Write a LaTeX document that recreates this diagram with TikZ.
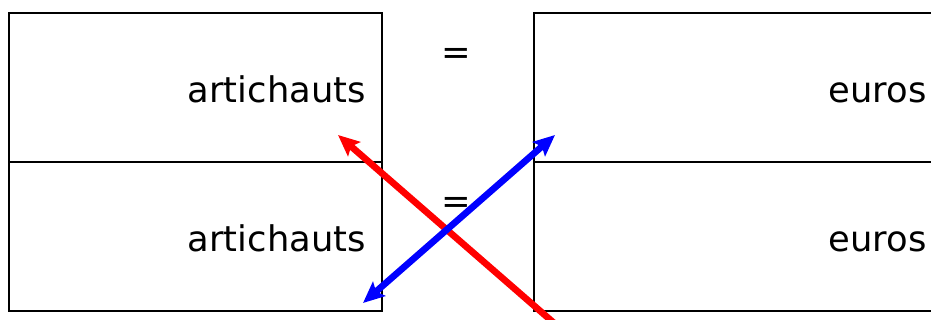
\documentclass[tikz,border=0pt]{standalone}
\usepackage{fontspec}
\setmainfont{DejaVu Sans}
\usetikzlibrary{arrows.meta}

\begin{document}
\begin{tikzpicture}[x=0.75pt, y=-0.75pt, font=\fontsize{26.5}{30}\selectfont]
    \useasboundingbox (0,0) rectangle (931,320);

    % Boxes
    \node[draw, line width=1.6pt, anchor=north west, minimum width=279.75pt, minimum height=111.75pt] (artTop) at (8,12) {};
    \node[draw, line width=1.6pt, anchor=north west, minimum width=279.75pt, minimum height=111.75pt] (artBot) at (8,161) {};
    \node[draw, line width=1.6pt, anchor=north west, minimum width=307pt, minimum height=111.75pt] (eurTop) at (533,12) {};
    \node[draw, line width=1.6pt, anchor=north west, minimum width=307pt, minimum height=111.75pt] (eurBot) at (533,161) {};

    % Labels
    \node[anchor=base east, inner sep=0pt] (artTopL) at (366,103) {artichauts};
    \node[anchor=base east, inner sep=0pt] (artBotL) at (366,252) {artichauts};
    \node[anchor=base east, inner sep=0pt] (eurTopL) at (927,103) {euros};
    \node[anchor=base east, inner sep=0pt] (eurBotL) at (927,252) {euros};
    \node (eqTop) at (456,56) {=};
    \node (eqBot) at (456,205) {=};

    % Arrows
    \coordinate (redA) at (338,135);
    \coordinate (redB) at (562,330);
    \coordinate (blueA) at (363,303);
    \coordinate (blueB) at (555,135);
    \draw[red, line width=5pt, -{Stealth[length=16pt, width=14pt, inset=3pt]}] (redB) -- (redA);
    \draw[blue, line width=5pt, {Stealth[length=16pt, width=14pt, inset=3pt]}-{Stealth[length=16pt, width=14pt, inset=3pt]}] (blueA) -- (blueB);
\end{tikzpicture}
\end{document}
